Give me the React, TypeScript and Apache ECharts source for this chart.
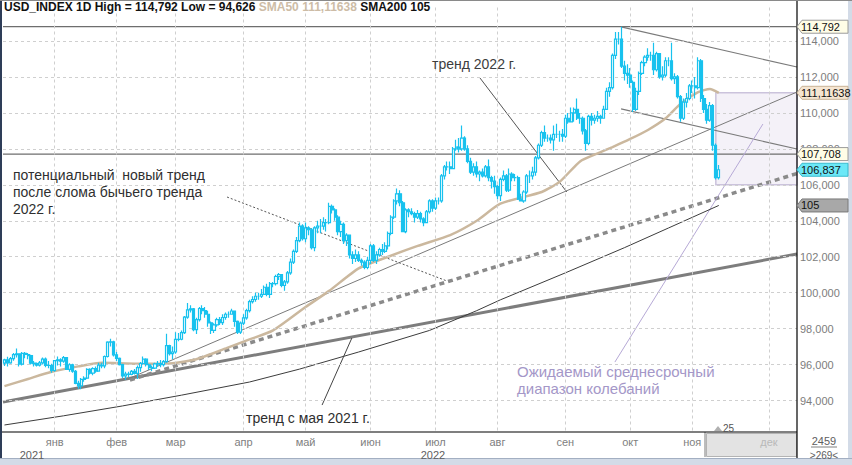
import React, { useEffect, useRef } from "react";
import * as echarts from "echarts";

const MONTHS = ["янв", "фев", "мар", "апр", "май", "июн", "июл", "авг", "сен", "окт", "ноя", "дек"];
const FIRST_BAR_DATE = "2021-12-09";
const FUTURE_CALENDAR_DAYS = 26;

// daily bars: [open, close, low, high]
const ohlcDec21 = [
  [96.08, 96.26, 95.92, 96.33], [96.26, 96.1, 95.9, 96.43], [96.1, 96.33, 96.05, 96.42], [96.33, 96.55, 96.22, 96.65],
  [96.55, 96.6, 96.4, 96.9], [96.6, 96.03, 95.9, 96.62], [96.03, 96.62, 95.95, 96.7], [96.62, 96.56, 96.35, 96.7],
  [96.56, 96.5, 96.3, 96.65], [96.5, 96.08, 96.0, 96.55], [96.08, 96.05, 95.9, 96.2], [96.05, 95.97, 95.9, 96.12],
  [95.97, 96.1, 95.9, 96.2], [96.1, 96.3, 96.0, 96.4], [96.3, 95.96, 95.85, 96.4], [95.96, 95.95, 95.8, 96.2],
  [95.95, 95.67, 95.55, 96.05],
];
const ohlcJan22 = [
  [95.67, 96.22, 95.6, 96.26], [96.22, 96.27, 95.95, 96.45], [96.27, 96.19, 95.9, 96.35], [96.19, 96.39, 96.1, 96.48],
  [96.39, 95.73, 95.7, 96.4], [95.73, 95.99, 95.6, 96.07], [95.99, 95.63, 95.55, 96.05], [95.63, 94.96, 94.9, 95.7],
  [94.96, 94.82, 94.65, 95.1], [94.82, 95.18, 94.626, 95.25], [95.18, 95.25, 95.05, 95.35], [95.25, 95.73, 95.2, 95.8],
  [95.73, 95.53, 95.45, 95.8], [95.53, 95.77, 95.4, 95.85], [95.77, 95.64, 95.55, 95.9], [95.64, 95.97, 95.6, 96.1],
  [95.97, 95.93, 95.8, 96.1], [95.93, 96.45, 95.8, 96.5], [96.45, 97.25, 96.4, 97.3], [97.25, 97.27, 97.0, 97.44],
  [97.27, 96.54, 96.45, 97.32],
];
const ohlcFeb22 = [
  [96.54, 96.35, 96.2, 96.7], [96.35, 96.0, 95.95, 96.4], [96.0, 95.37, 95.25, 96.05], [95.37, 95.47, 95.15, 95.6],
  [95.47, 95.45, 95.3, 95.6], [95.45, 95.62, 95.4, 95.7], [95.62, 95.51, 95.45, 95.75], [95.51, 95.83, 95.2, 95.95],
  [95.83, 96.06, 95.6, 96.15], [96.06, 96.3, 96.0, 96.45], [96.3, 95.99, 95.9, 96.35], [95.99, 95.83, 95.7, 96.05],
  [95.83, 95.8, 95.65, 95.95], [95.8, 96.04, 95.75, 96.1], [96.04, 96.05, 95.9, 96.2], [96.05, 96.0, 95.85, 96.25],
  [96.0, 96.17, 95.9, 96.25], [96.17, 97.05, 96.1, 97.72], [97.05, 96.61, 96.5, 97.1], [96.61, 96.7, 96.3, 97.0],
];
const ohlcMar22 = [
  [96.7, 97.4, 96.6, 97.8], [97.4, 97.41, 97.3, 97.75], [97.41, 97.78, 97.35, 97.9], [97.78, 98.64, 97.7, 98.7],
  [98.64, 99.04, 98.55, 99.42], [99.04, 99.1, 98.9, 99.3], [99.1, 97.94, 97.85, 99.15], [97.94, 98.5, 97.7, 98.6],
  [98.5, 99.12, 98.4, 99.2], [99.12, 99.0, 98.8, 99.3], [99.0, 98.8, 98.6, 99.2], [98.8, 98.32, 98.1, 99.0],
  [98.32, 97.9, 97.7, 98.4], [97.9, 98.21, 97.75, 98.3], [98.21, 98.5, 98.1, 98.6], [98.5, 98.33, 98.2, 98.65],
  [98.33, 98.62, 98.2, 98.8], [98.62, 98.8, 98.5, 98.9], [98.8, 98.8, 98.6, 98.95], [98.8, 98.98, 98.8, 99.1],
  [98.98, 98.4, 98.1, 99.0], [98.4, 97.8, 97.7, 98.45], [97.8, 98.31, 97.7, 98.4],
];
const ohlcApr22 = [
  [98.31, 98.6, 98.2, 98.8], [98.6, 99.0, 98.5, 99.1], [99.0, 99.5, 98.9, 99.6], [99.5, 99.62, 99.4, 99.8],
  [99.62, 99.8, 99.5, 100.0], [99.8, 99.8, 99.6, 100.0], [99.8, 99.9, 99.7, 100.2], [99.9, 100.3, 99.9, 100.4],
  [100.3, 99.9, 99.8, 100.5], [99.9, 100.5, 99.7, 100.6], [100.5, 100.5, 100.3, 100.6], [100.5, 100.9, 100.4, 101.0],
  [100.9, 101.0, 100.7, 101.1], [101.0, 100.4, 100.3, 101.0], [100.4, 100.6, 100.1, 100.7], [100.6, 101.1, 100.5, 101.2],
  [101.1, 101.7, 101.0, 101.9], [101.7, 102.3, 101.6, 102.4], [102.3, 102.9, 102.2, 103.1], [102.9, 103.7, 102.8, 103.9],
  [103.7, 103.0, 102.9, 103.8],
];
const ohlcMay22 = [
  [103.0, 103.6, 102.8, 103.9], [103.6, 103.5, 103.2, 103.7], [103.5, 102.5, 102.4, 103.6], [102.5, 103.6, 102.3, 103.7],
  [103.6, 103.7, 103.3, 104.0], [103.7, 103.7, 103.3, 104.1], [103.7, 103.9, 103.5, 104.2], [103.9, 103.9, 103.4, 104.1],
  [103.9, 104.8, 103.8, 105.0], [104.8, 104.6, 104.4, 104.9], [104.6, 104.2, 104.0, 104.7], [104.2, 103.4, 103.2, 104.3],
  [103.4, 103.8, 103.1, 104.0], [103.8, 102.9, 102.7, 103.9], [102.9, 103.2, 102.6, 103.3], [103.2, 102.1, 101.9, 103.2],
  [102.1, 101.9, 101.6, 102.3], [101.9, 102.1, 101.7, 102.4], [102.1, 101.8, 101.7, 102.3], [101.8, 101.7, 101.5, 101.9],
  [101.7, 101.4, 101.3, 101.8], [101.4, 101.8, 101.3, 102.0],
];
const ohlcJun22 = [
  [101.8, 102.6, 101.6, 102.7], [102.6, 101.8, 101.7, 102.7], [101.8, 102.1, 101.6, 102.3], [102.1, 102.4, 102.0, 102.5],
  [102.4, 102.3, 102.1, 102.7], [102.3, 102.6, 102.2, 102.8], [102.6, 103.3, 102.4, 103.4], [103.3, 104.2, 103.2, 104.3],
  [104.2, 105.1, 104.1, 105.2], [105.1, 105.5, 104.9, 105.8], [105.5, 105.0, 104.8, 105.7], [105.0, 103.4, 103.4, 105.1],
  [103.4, 104.6, 103.3, 104.7], [104.6, 104.5, 104.2, 104.7], [104.5, 104.4, 104.3, 104.7], [104.4, 104.2, 103.9, 104.5],
  [104.2, 104.4, 104.1, 104.6], [104.4, 104.1, 103.9, 104.5], [104.1, 103.9, 103.7, 104.2], [103.9, 104.5, 103.9, 104.6],
  [104.5, 105.1, 104.4, 105.2], [105.1, 104.7, 104.5, 105.2],
];
const ohlcJul22 = [
  [104.7, 105.1, 104.6, 105.3], [105.1, 105.1, 104.9, 105.3], [105.1, 106.5, 105.0, 106.6], [106.5, 107.0, 106.3, 107.1],
  [107.0, 107.0, 106.8, 107.3], [107.0, 106.9, 106.6, 107.3], [106.9, 108.0, 106.9, 108.1], [108.0, 108.1, 107.9, 108.5],
  [108.1, 108.0, 107.8, 108.6], [108.0, 108.6, 107.9, 109.3], [108.6, 108.0, 107.9, 108.7], [108.0, 107.3, 107.2, 108.2],
  [107.3, 106.7, 106.6, 107.5], [106.7, 107.0, 106.5, 107.2], [107.0, 106.6, 106.4, 107.3], [106.6, 106.7, 106.2, 106.8],
  [106.7, 106.5, 106.4, 106.9], [106.5, 107.0, 106.4, 107.1], [107.0, 106.4, 106.2, 107.4], [106.4, 106.2, 105.8, 106.5],
  [106.2, 105.9, 105.5, 106.5],
];
const ohlcAug22 = [
  [105.9, 105.4, 105.2, 106.0], [105.4, 106.3, 105.1, 106.4], [106.3, 106.5, 106.2, 106.8], [106.5, 105.7, 105.6, 106.6],
  [105.7, 106.6, 105.6, 106.9], [106.6, 106.4, 106.2, 106.7], [106.4, 106.4, 106.2, 106.6], [106.4, 105.2, 105.15, 106.5],
  [105.2, 105.1, 105.1, 105.5], [105.1, 105.6, 105.0, 105.7], [105.6, 106.5, 105.5, 106.6], [106.5, 106.5, 106.1, 106.8],
  [106.5, 106.7, 106.3, 107.0], [106.7, 107.5, 106.5, 107.6], [107.5, 108.2, 107.4, 108.3], [108.2, 108.9, 108.1, 109.0],
  [108.9, 108.6, 108.4, 109.3], [108.6, 108.6, 108.4, 108.8], [108.6, 108.5, 108.3, 108.8], [108.5, 108.8, 107.9, 109.3],
  [108.8, 108.8, 108.6, 109.4], [108.8, 108.8, 108.4, 109.0], [108.8, 108.7, 108.4, 109.1],
];
const ohlcSep22 = [
  [108.7, 109.7, 108.6, 109.9], [109.7, 109.5, 109.4, 110.0], [109.5, 110.0, 109.6, 110.3], [110.0, 110.2, 109.5, 110.3],
  [110.2, 109.7, 109.6, 110.8], [109.7, 109.7, 109.4, 110.0], [109.7, 109.0, 108.8, 109.8], [109.0, 108.3, 107.9, 109.1],
  [108.3, 109.8, 108.2, 109.9], [109.8, 109.6, 109.3, 110.0], [109.6, 109.7, 109.4, 109.9], [109.7, 109.8, 109.5, 110.1],
  [109.8, 109.7, 109.4, 109.9], [109.7, 110.2, 109.7, 110.4], [110.2, 111.2, 110.2, 111.4], [111.2, 111.4, 110.9, 111.7],
  [111.4, 113.2, 111.3, 113.3], [113.2, 114.1, 113.0, 114.5], [114.1, 114.1, 113.8, 114.5], [114.1, 112.6, 112.5, 114.792],
  [112.6, 112.2, 111.8, 112.9], [112.2, 112.1, 111.6, 112.7],
];
const ohlcOct22 = [
  [112.1, 111.7, 111.4, 112.5], [111.7, 110.2, 110.05, 111.8], [110.2, 111.2, 110.1, 111.4], [111.2, 112.2, 111.0, 112.3],
  [112.2, 112.8, 112.1, 112.9], [112.8, 113.1, 112.6, 113.2], [113.1, 113.2, 112.9, 113.6], [113.2, 113.2, 112.9, 113.4],
  [113.2, 112.4, 112.1, 113.9], [112.4, 113.3, 112.3, 113.4], [113.3, 112.0, 111.9, 113.3], [112.0, 112.1, 111.8, 112.6],
  [112.1, 112.9, 112.0, 113.1], [112.9, 112.9, 112.6, 113.1], [112.9, 111.9, 111.8, 113.9], [111.9, 112.0, 111.6, 112.2],
  [112.0, 110.9, 110.8, 112.1], [110.9, 109.7, 109.5, 111.0], [109.7, 110.6, 109.6, 110.8], [110.6, 110.8, 110.3, 111.1],
  [110.8, 111.5, 110.7, 111.6],
];
const ohlcNov22 = [
  [111.5, 111.5, 111.1, 111.8], [111.5, 111.4, 110.8, 112.0], [111.4, 112.9, 111.3, 113.1], [112.9, 110.8, 110.6, 113.0],
  [110.8, 110.2, 110.0, 111.0], [110.2, 109.6, 109.4, 110.5], [109.6, 110.4, 109.5, 110.6], [110.4, 108.2, 107.9, 110.5],
  [108.2, 106.4, 106.3, 108.3], [106.4, 106.837, 106.3, 107.1],
];

const yTicks = [94, 96, 98, 100, 102, 104, 106, 108, 110, 112, 114];

// moving averages: [bar index, value]
const sma50 = [
  [0, 94.8], [8, 95.2], [16, 95.6], [25, 95.9], [33, 96.1], [45, 96.05], [55, 96.05], [65, 96.3], [75, 96.9],
  [83, 97.4], [91, 97.9], [102, 99.2], [110, 100.1], [120, 101.35], [130, 102.0], [140, 102.6], [151, 103.2],
  [160, 104.0], [168, 104.95], [182, 105.6], [188, 106.15], [195, 107.3], [201, 107.75], [206, 108.1],
  [212, 108.55], [218, 109.05], [224, 109.7], [229, 110.5], [235, 111.15], [239, 111.33], [242, 111.11638],
];
const sma200 = [
  [0, 92.64], [20, 93.15], [40, 93.7], [60, 94.3], [83, 95.03], [100, 95.75], [120, 96.7], [144, 97.9],
  [160, 99.0], [168, 99.6], [190, 101.1], [210, 102.5], [225, 103.6], [242, 104.85],
];

// drawn trend lines: [bar index, value]
const trendMay2021 = [[-0.5, 93.92], [268.5, 102.15]];
const trend2022 = [[42.5, 95.25], [268.5, 111.16]];
const trendPotential = [[42.5, 95.14], [268.5, 106.63]];
const channelTop = [[208.9, 114.78], [268.5, 112.55]];
const channelBottom = [[208.9, 110.22], [268.5, 107.99]];
const levelHigh = 114.792;
const levelLow = 94.626;
const levelBreak = 107.708;
const lastClose = 106.837;
const rangeBox = [[241, 111.11638], [268.5, 106.0]];
const ptr2022 = [[161.1, 111.94], [190.5, 105.6]];
const ptrPotential = [[75.4, 105.32], [149.9, 100.65]];
const ptrMay2021 = [[107.6, 93.75], [117.7, 97.48]];
const ptrRange = [[206.8, 96.14], [256.95, 109.38]];

const FONT = "'Liberation Sans', Arial, sans-serif";

function fmt(v: number, d: number) {
  return v.toFixed(d).replace(".", ",");
}

function buildDates(start: string, tradingCount: number, futureCount: number) {
  const out: string[] = [];
  const d = new Date(start + "T00:00:00Z");
  while (out.length < tradingCount) {
    const wd = d.getUTCDay();
    if (wd !== 0 && wd !== 6) out.push(d.toISOString().slice(0, 10));
    d.setUTCDate(d.getUTCDate() + 1);
  }
  for (let k = 0; k < futureCount; k++) {
    out.push(d.toISOString().slice(0, 10));
    d.setUTCDate(d.getUTCDate() + 1);
  }
  return out;
}

export default function App() {
  const ref = useRef<HTMLDivElement>(null);
  useEffect(() => {
    const el = ref.current!;
    const chart = echarts.init(el, null, { renderer: "svg" });
    const candles = [
      ...ohlcDec21, ...ohlcJan22, ...ohlcFeb22, ...ohlcMar22, ...ohlcApr22, ...ohlcMay22,
      ...ohlcJun22, ...ohlcJul22, ...ohlcAug22, ...ohlcSep22, ...ohlcOct22, ...ohlcNov22,
    ];
    const dates = buildDates(FIRST_BAR_DATE, candles.length, FUTURE_CALENDAR_DAYS);
    const futureStart = dates[candles.length];
    const monthStarts: number[] = [];
    for (let i = 1; i < dates.length; i++) {
      if (dates[i].slice(5, 7) !== dates[i - 1].slice(5, 7)) monthStarts.push(i);
    }
    const monthSet = new Set(monthStarts);
    const xMax = dates.length - 0.5;

    const lineSeries = (data: number[][], color: string, width: number, type: any = "solid", z = 3) => ({
      type: "line",
      xAxisIndex: 1,
      yAxisIndex: 0,
      data,
      symbol: "none",
      silent: true,
      z,
      lineStyle: { color, width, type },
    });

    const option: any = {
      animation: false,
      backgroundColor: "#ffffff",
      title: {
        text: `{a|USD_INDEX 1D High = ${fmt(levelHigh, 3)} Low = ${fmt(levelLow, 3)} }{b|SMA50 ${fmt(sma50[sma50.length - 1][1], 5)}}{a| SMA200 105}`,
        left: 4,
        top: 1,
        padding: 0,
        textStyle: {
          rich: {
            a: { color: "#111111", fontSize: 12, fontFamily: FONT },
            b: { color: "#cdbca6", fontSize: 12, fontFamily: FONT },
          },
        },
      },
      grid: { left: 3, right: 55, top: 5, bottom: 28.5 },
      xAxis: [
        {
          type: "category",
          data: dates,
          boundaryGap: true,
          z: 50,
          axisLine: { show: false },
          axisTick: { show: false },
          splitLine: { show: false },
          axisLabel: {
            interval: (idx: number) => monthSet.has(idx),
            formatter: (val: string) => MONTHS[Number(val.slice(5, 7)) - 1],
            color: (val: string) => (val >= futureStart ? "#b9b9b9" : "#808080"),
            fontSize: 11,
            fontFamily: FONT,
            margin: 5,
            verticalAlign: "middle",
            hideOverlap: false,
          },
        },
        { type: "value", min: -0.5, max: xMax, show: false },
      ],
      yAxis: {
        type: "value",
        position: "right",
        min: 92,
        max: 116,
        interval: 2,
        axisLine: { show: false },
        axisTick: { show: false },
        splitLine: { show: false },
        axisLabel: {
          showMinLabel: false,
          showMaxLabel: false,
          formatter: (v: number) => fmt(v, 3),
          color: "#7d7d7d",
          fontSize: 11,
          fontFamily: FONT,
          margin: 3,
        },
      },
      series: [
        {
          type: "line",
          xAxisIndex: 1,
          yAxisIndex: 0,
          data: [[-0.5, 92]],
          symbol: "none",
          silent: true,
          z: 1,
          lineStyle: { opacity: 0 },
          markLine: {
            silent: true,
            symbol: "none",
            label: { show: false },
            lineStyle: { color: "#cfcfcf", width: 1, type: [3, 3] },
            data: [...yTicks.map((v) => ({ yAxis: v })), ...monthStarts.map((i) => ({ xAxis: i }))],
          },
          markArea: {
            silent: true,
            itemStyle: { color: "#f4f1f8", borderColor: "#cbc3dc", borderWidth: 1.5 },
            data: [[{ coord: rangeBox[0] }, { coord: rangeBox[1] }]],
          },
        },
        lineSeries([[-0.5, levelHigh], [xMax, levelHigh]], "#6e6e6e", 1.3),
        lineSeries([[-0.5, levelBreak], [xMax, levelBreak]], "#6e6e6e", 1.3),
        lineSeries(trendMay2021, "#7d7d7d", 3),
        lineSeries(trendPotential, "#8a8a8a", 3.5, [5, 4]),
        lineSeries(trend2022, "#7a7a7a", 1),
        lineSeries(channelTop, "#7a7a7a", 1.2),
        lineSeries(channelBottom, "#7a7a7a", 1.2),
        lineSeries(ptr2022, "#555555", 1),
        lineSeries(ptrPotential, "#555555", 1, [2, 2]),
        lineSeries(ptrMay2021, "#444444", 1),
        lineSeries(ptrRange, "#b6a9d6", 1),
        {
          type: "line",
          xAxisIndex: 1,
          yAxisIndex: 0,
          data: sma200,
          symbol: "none",
          smooth: false,
          silent: true,
          z: 3,
          lineStyle: { color: "#3c3c3c", width: 1 },
        },
        {
          type: "line",
          xAxisIndex: 1,
          yAxisIndex: 0,
          data: sma50,
          symbol: "none",
          smooth: 0.2,
          silent: true,
          z: 3,
          lineStyle: { color: "#cbb89e", width: 2.5 },
        },
        {
          type: "candlestick",
          xAxisIndex: 0,
          yAxisIndex: 0,
          data: candles,
          barWidth: 2.6,
          silent: true,
          z: 5,
          itemStyle: {
            color: "#ffffff",
            color0: "#18c2ee",
            borderColor: "#18c2ee",
            borderColor0: "#18c2ee",
            borderWidth: 1.2,
          },
        },
      ],
    };
    chart.setOption(option);

    const yPix = (v: number) => chart.convertToPixel({ yAxisIndex: 0 } as any, v) as number;
    const W = 852;
    const H = 465;
    const plotRight = W - 55;
    const axisY = 432;

    const pennants = [
      { v: levelHigh, label: fmt(levelHigh, 3), fill: "#fffde6", stroke: "#9c9c9c" },
      { v: sma50[sma50.length - 1][1], label: fmt(sma50[sma50.length - 1][1], 5), fill: "#f6e6d2", stroke: "#c9b396" },
      { v: levelBreak, label: fmt(levelBreak, 3), fill: "#fffde6", stroke: "#9c9c9c" },
      { v: lastClose, label: fmt(lastClose, 3), fill: "#6be8f7", stroke: "#39b9cc" },
      { v: sma200[sma200.length - 1][1], label: "105", fill: "#a8a8a8", stroke: "#7a7a7a" },
    ];

    const elements: any[] = [
      { type: "rect", z: 10, shape: { x: 2, y: axisY + 1, width: plotRight - 2, height: 25 }, style: { fill: "#ffffff" } },
      { type: "rect", z: 11, shape: { x: 706.5, y: axisY + 1.5, width: plotRight - 707, height: 23 }, style: { fill: "#e3e3e3", stroke: "#b3b3b3", lineWidth: 1 } },
      { type: "line", z: 12, shape: { x1: 705, y1: axisY, x2: 705, y2: 457 }, style: { stroke: "#7a7a7a", lineWidth: 1 } },
      { type: "line", z: 60, shape: { x1: 2, y1: axisY, x2: plotRight, y2: axisY }, style: { stroke: "#000000", lineWidth: 1.2 } },
      { type: "line", z: 60, shape: { x1: plotRight, y1: 0, x2: plotRight, y2: 458 }, style: { stroke: "#000000", lineWidth: 1.2 } },
      { type: "rect", z: 60, shape: { x: 0, y: 458, width: W, height: H - 458 }, style: { fill: "#d3dbe7" } },
      { type: "line", z: 61, shape: { x1: 0, y1: 458.5, x2: W, y2: 458.5 }, style: { stroke: "#a3afc2", lineWidth: 1 } },
      { type: "rect", z: 60, shape: { x: W - 4, y: 0, width: 4, height: H }, style: { fill: "#d3dbe7" } },
      { type: "rect", z: 60, shape: { x: 0, y: 0, width: 2, height: 458 }, style: { fill: "#2e3d58" } },
      { type: "line", z: 60, shape: { x1: 0, y1: 0.5, x2: W, y2: 0.5 }, style: { stroke: "#8a8a8a", lineWidth: 1 } },
      { type: "text", z: 70, style: { x: 32, y: 455, text: "2021", fill: "#606060", font: `11px ${FONT}`, align: "center", verticalAlign: "middle" } },
      { type: "text", z: 70, style: { x: 433, y: 455, text: "2022", fill: "#606060", font: `11px ${FONT}`, align: "center", verticalAlign: "middle" } },
      { type: "text", z: 70, style: { x: 824, y: 441, text: "2459", fill: "#606060", font: `11px ${FONT}`, align: "center", verticalAlign: "middle" } },
      { type: "line", z: 70, shape: { x1: 811, y1: 447, x2: 837, y2: 447 }, style: { stroke: "#808080", lineWidth: 1 } },
      { type: "text", z: 70, style: { x: 824, y: 455, text: ">269<", fill: "#606060", font: `10px ${FONT}`, align: "center", verticalAlign: "middle" } },
      { type: "polygon", z: 70, shape: { points: [[714, 431], [718, 426], [722, 431]] }, style: { fill: "#b0b0b0" } },
      { type: "text", z: 70, style: { x: 723, y: 428, text: "25", fill: "#555555", font: `10px ${FONT}`, align: "left", verticalAlign: "middle" } },
      { type: "text", z: 100, style: { x: 432, y: 64, text: "тренд 2022 г.", fill: "#3d3d3d", font: `14px ${FONT}`, verticalAlign: "middle" } },
      { type: "text", z: 100, style: { x: 13, y: 175, text: "потенциальный  новый тренд", fill: "#2f2f2f", font: `14px ${FONT}`, verticalAlign: "middle" } },
      { type: "text", z: 100, style: { x: 13, y: 192, text: "после слома бычьего тренда", fill: "#2f2f2f", font: `14px ${FONT}`, verticalAlign: "middle" } },
      { type: "text", z: 100, style: { x: 13, y: 209, text: "2022 г.", fill: "#2f2f2f", font: `14px ${FONT}`, verticalAlign: "middle" } },
      { type: "text", z: 100, style: { x: 246, y: 418, text: "тренд с мая 2021 г.", fill: "#2f2f2f", font: `14px ${FONT}`, verticalAlign: "middle" } },
      { type: "text", z: 100, style: { x: 517, y: 371, text: "Ожидаемый среднесрочный", fill: "#a497c8", font: `15px ${FONT}`, verticalAlign: "middle" } },
      { type: "text", z: 100, style: { x: 517, y: 388, text: "диапазон колебаний", fill: "#a497c8", font: `15px ${FONT}`, verticalAlign: "middle" } },
    ];
    pennants.forEach((p) => {
      const y = yPix(p.v);
      elements.push({
        type: "polygon",
        z: 90,
        shape: { points: [[plotRight, y], [plotRight + 5, y - 6.5], [W - 4, y - 6.5], [W - 4, y + 6.5], [plotRight + 5, y + 6.5]] },
        style: { fill: p.fill, stroke: p.stroke, lineWidth: 1 },
      });
      elements.push({
        type: "text",
        z: 91,
        style: { x: plotRight + 4, y, text: p.label, fill: "#111111", font: `11px ${FONT}`, verticalAlign: "middle" },
      });
    });
    chart.setOption({ graphic: { elements } });

    return () => chart.dispose();
  }, []);
  return (
    <div
      ref={ref}
      style={{ position: "fixed", left: 0, top: 0, width: 852, height: 465, background: "#fff" }}
    />
  );
}
